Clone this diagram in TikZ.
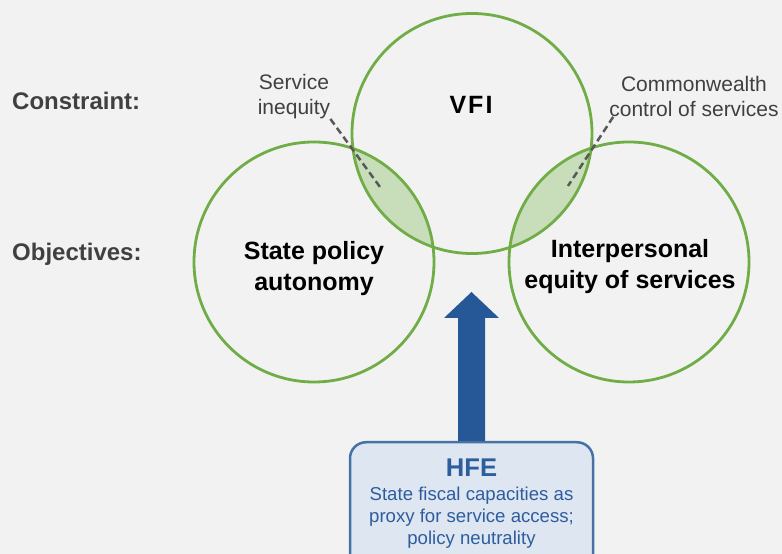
\documentclass[tikz,border=0pt]{standalone}
\usepackage{fontspec}
\setmainfont{Liberation Sans}
\definecolor{bggray}{HTML}{F2F2F2}
\definecolor{ringgreen}{HTML}{70AD47}
\definecolor{lensgreen}{HTML}{C8DEBA}
\definecolor{labelgray}{HTML}{404040}
\definecolor{leadergray}{HTML}{595959}
\definecolor{arrowblue}{HTML}{265796}
\definecolor{boxfill}{HTML}{DEE6F2}
\definecolor{boxline}{HTML}{4672A6}
\definecolor{boxtext}{HTML}{2E5D9E}
\def\circfont{\fontsize{25}{31}\selectfont\bfseries}
\def\sidefont{\fontsize{24}{29}\selectfont\bfseries}
\def\notefont{\fontsize{21}{25}\selectfont}

\begin{document}
\begin{tikzpicture}[x=1pt,y=1pt,
  ring/.style={draw=ringgreen,line width=2.8pt},
  lens/.style={fill=lensgreen},
  sidelabel/.style={anchor=west,inner sep=0pt,text=labelgray,font=\sidefont},
  circtext/.style={align=center,inner sep=0pt,font=\circfont},
  note/.style={align=center,inner sep=0pt,text=labelgray,font=\notefont},
  leader/.style={draw=leadergray,line width=2.5pt,dash pattern=on 7pt off 4pt},
  hfebox/.style={draw=boxline,line width=2.5pt,fill=boxfill,rounded corners=16pt}]
\path[use as bounding box,fill=bggray] (0,0) rectangle (782,554);
\clip (0,0) rectangle (782,554);
%centres
\coordinate (vfi) at (472,420.5);
\coordinate (spa) at (314,292);
\coordinate (ies) at (629,292);
%lenses
\begin{scope}
\clip (vfi) circle (120);
\fill[lens] (spa) circle (120);
\fill[lens] (ies) circle (120);
\end{scope}
%rings
\draw[ring] (vfi) circle (120);
\draw[ring] (spa) circle (120);
\draw[ring] (ies) circle (120);
%row labels
\node[sidelabel] (constraint) at (12,453) {Constraint:};
\node[sidelabel] (objectives) at (12,300) {Objectives:};
%circle texts
\node[circtext] (vfitxt) at (471,449) {\addfontfeature{LetterSpace=8}VFI};
\node[circtext] (spatxt) at (314,285) {State policy\\autonomy};
\node[circtext] (iestxt) at (630,287.7) {Interpersonal\\equity of services};
%notes
\node[note] (si) at (294,457.5) {Service\\inequity};
\node[note] (cw) at (694,457.5) {Commonwealth\\control of services};
\coordinate (si-end) at (380,367);
\coordinate (cw-end) at (568,368);
\draw[leader] (si.south east) -- (si-end);
\draw[leader] ([xshift=4pt]cw.south west) -- (cw-end);
%hfe
\node[hfebox,minimum width=243pt,minimum height=140pt,anchor=north] (hfe) at (471.5,113) {};
\coordinate (goal) at (471.5,262);
\fill[arrowblue] ([xshift=-13.5pt]hfe.north) -- ([xshift=-13.5pt,yshift=-26pt]goal)
  -- ([xshift=-27.5pt,yshift=-26pt]goal) -- (goal)
  -- ([xshift=27.5pt,yshift=-26pt]goal) -- ([xshift=13.5pt,yshift=-26pt]goal)
  -- ([xshift=13.5pt]hfe.north) -- cycle;
\node[inner sep=0pt,text=boxtext,font=\fontsize{25.6}{30}\selectfont\bfseries] (hfetitle) at (471.5,86.5) {HFE};
\node[align=center,inner sep=0pt,text=boxtext,font=\fontsize{18.6}{21.8}\selectfont] (hfebody) at (471.5,36.3) {State fiscal capacities as\\proxy for service access;\\policy neutrality};
\end{tikzpicture}
\end{document}
